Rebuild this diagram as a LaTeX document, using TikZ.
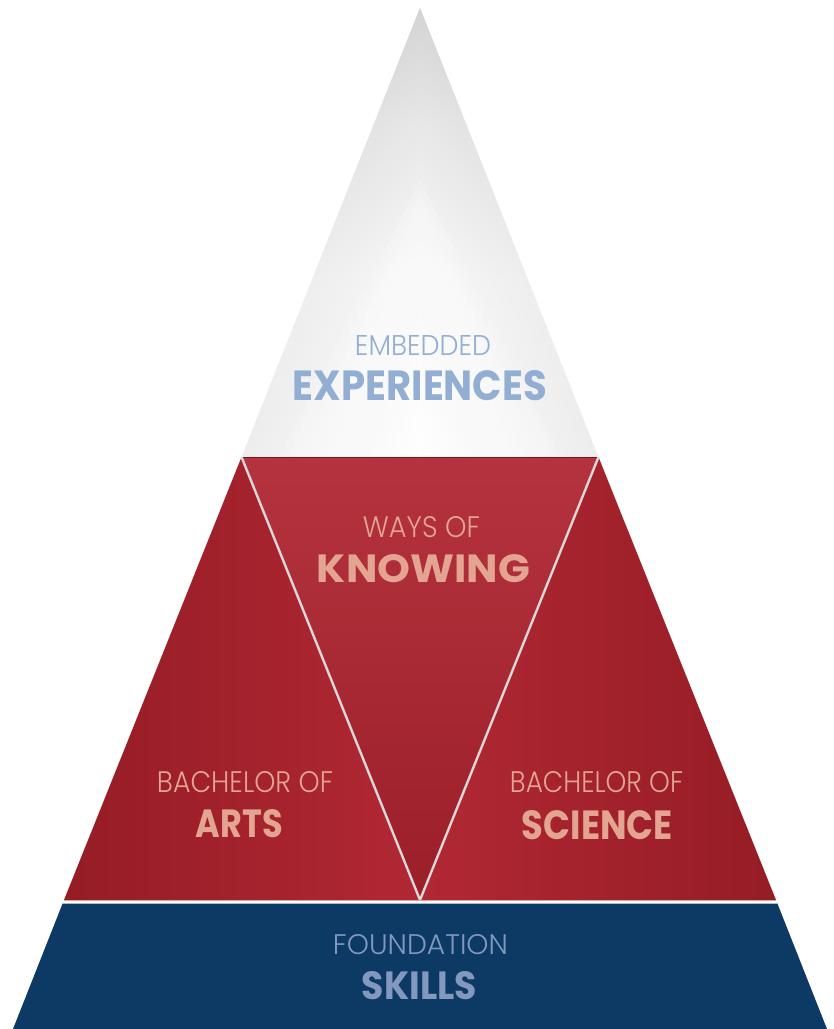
\documentclass[tikz,border=0pt]{standalone}
\usepackage{fontspec}
\setmainfont{Poppins}
\newfontfamily\thinfont{Poppins Light}
\usetikzlibrary{calc}
\definecolor{bluefill}{HTML}{0C3A64}
\definecolor{bluetext}{HTML}{8298BE}
\definecolor{redmid}{HTML}{B12834}
\definecolor{reddark}{HTML}{951C25}
\definecolor{redtext}{HTML}{E3A592}
\definecolor{whitetext}{HTML}{93AED3}
\definecolor{vline}{HTML}{D8D6D6}
\pgfdeclareverticalshading{whitetop}{100bp}{color(0bp)=(white); color(25bp)=(white); color(45bp)=(white!96!black); color(62bp)=(white!85!black); color(75bp)=(white!72!black); color(100bp)=(white!72!black)}
\tikzset{
  thinlbl/.style={inner sep=0pt, anchor=center},
  boldlbl/.style={inner sep=0pt, anchor=center},
  glow/.style={fill=white, opacity=0.16},
}
\newcommand{\fitlabel}[3]{\resizebox{#1pt}{#2pt}{#3}}
\begin{document}
\begin{tikzpicture}[x=1pt,y=-1pt]
\useasboundingbox (0,0) rectangle (834,1029);
% key points
\coordinate (apex) at (420,8);
\coordinate (tl) at (241.5,457);
\coordinate (tr) at (598.5,457);
\coordinate (ml) at (64,900);
\coordinate (mr) at (776,900);
\coordinate (vb) at (420,900);
\coordinate (bl) at (13,1029);
\coordinate (br) at (827,1029);
\coordinate (sl) at (62.4,904);
\coordinate (sr) at (777.6,904);
% white top triangle
\shade[shading=whitetop] (apex) -- (tr) -- (tl) -- cycle;
\shade[left color=gray!35, right color=gray!35, middle color=white, opacity=0.4] (apex) -- (tr) -- (tl) -- cycle;
% soft inner glow triangle
\begin{scope}
\clip (apex) -- (tr) -- (tl) -- cycle;
\fill[glow] (420,180) -- (560,457) -- (280,457) -- cycle;
\fill[glow] (420,192) -- (552,457) -- (288,457) -- cycle;
\fill[glow] (420,204) -- (544,457) -- (296,457) -- cycle;
\end{scope}
% red side triangles
\shade[left color=reddark, right color=redmid] (tl) -- (vb) -- (ml) -- cycle;
\shade[left color=redmid, right color=reddark] (tr) -- (mr) -- (vb) -- cycle;
% central inverted triangle
\shade[top color=redmid!95!white, bottom color=reddark!80!redmid] (tl) -- (tr) -- (vb) -- cycle;
% top edge of red band
\draw[reddark!80!black, line width=0.8pt] (tl) -- (tr);
% V lines
\draw[vline, line width=2.4pt, line join=miter] (tl) -- (vb) -- (tr);
% stripe between red and blue
\fill[white] (ml) -- (mr) -- (sr) -- (sl) -- cycle;
\draw[redtext, line width=1pt] ($(ml)+(0,0.5)$) -- ($(mr)+(0,0.5)$);
\draw[bluetext!70!white, line width=1pt] ($(sl)+(0,-0.6)$) -- ($(sr)+(0,-0.6)$);
% blue base
\fill[bluefill] (sl) -- (sr) -- (br) -- (bl) -- cycle;
% labels
\node[thinlbl, text=whitetext] (emb) at (423,345) {\fitlabel{136}{20}{\thinfont EMBEDDED}};
\node[boldlbl, text=whitetext] (exp) at (420,386) {\fitlabel{254}{30}{\bfseries EXPERIENCES}};
\node[thinlbl, text=redtext] (ways) at (421.5,527.5) {\fitlabel{117}{21}{\thinfont WAYS OF}};
\node[boldlbl, text=redtext] (know) at (423.5,569) {\fitlabel{213}{28}{\bfseries KNOWING}};
\node[thinlbl, text=redtext] (bal) at (245,782.5) {\fitlabel{176}{21}{\thinfont BACHELOR OF}};
\node[boldlbl, text=redtext] (arts) at (239.5,824) {\fitlabel{87}{28}{\bfseries ARTS}};
\node[thinlbl, text=redtext] (bsl) at (596.5,782.5) {\fitlabel{173}{21}{\thinfont BACHELOR OF}};
\node[boldlbl, text=redtext] (sci) at (597.5,825) {\fitlabel{151}{29}{\bfseries SCIENCE}};
\node[thinlbl, text=bluetext] (fnd) at (420.5,945) {\fitlabel{175}{20}{\thinfont FOUNDATION}};
\node[boldlbl, text=bluetext] (skl) at (419.5,986) {\fitlabel{115}{28}{\bfseries SKILLS}};
\end{tikzpicture}
\end{document}
